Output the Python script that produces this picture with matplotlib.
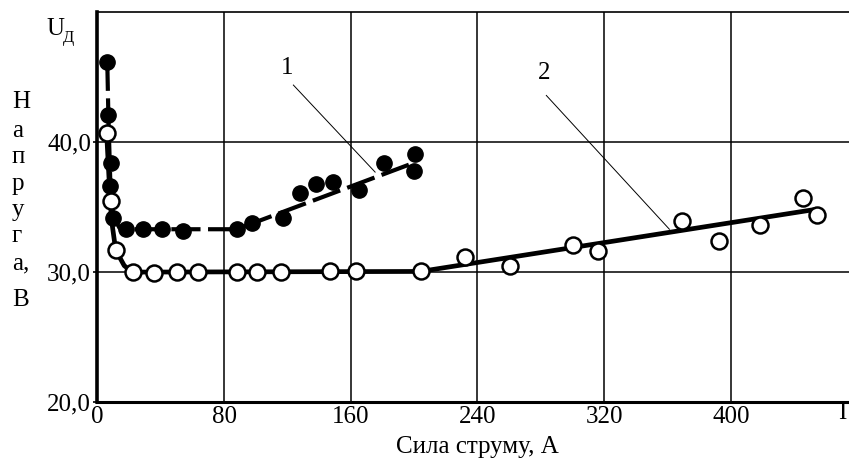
import numpy as np
import matplotlib
matplotlib.use("Agg")
import matplotlib.pyplot as plt

plt.rcParams['font.family'] = ['Liberation Serif', 'DejaVu Serif']

# measured points, curve 1 (filled dots)
i1 = [6.3, 7.0, 8.7, 8.0, 10.1, 18.1, 29.0, 41.0, 53.9, 88.0, 97.5, 117.5,
      128.0, 138.0, 148.6, 165.4, 181.3, 200.6, 200.0]
u1 = [46.2, 42.1, 38.4, 36.6, 34.2, 33.3, 33.3, 33.3, 33.2, 33.3, 33.8, 34.2,
      36.1, 36.8, 36.9, 36.3, 38.4, 39.1, 37.8]

# measured points, curve 2 (open circles)
i2 = [5.9, 8.7, 11.6, 22.7, 35.8, 50.1, 63.8, 88.0, 100.6, 116.0, 147.0, 163.3,
      204.3, 232.4, 260.6, 300.5, 316.3, 369.0, 392.7, 418.4, 445.8, 454.2]
u2 = [40.7, 35.5, 31.7, 30.0, 29.9, 30.0, 30.0, 30.0, 30.0, 30.0, 30.1, 30.1,
      30.1, 31.2, 30.5, 32.1, 31.6, 33.9, 32.4, 33.6, 35.7, 34.4]

# hand-drawn trend lines (vertices)
fit1_i = [6.3, 7.0, 8.2, 10.0, 14.0, 20.0, 88.0, 199.6]
fit1_u = [46.2, 42.0, 37.0, 34.3, 33.4, 33.3, 33.3, 38.4]
fit2_i = [5.9, 7.5, 9.0, 11.6, 17.0, 22.0, 204.0, 452.0]
fit2_u = [40.7, 37.0, 34.0, 31.7, 30.5, 30.0, 30.05, 34.8]

xticks = [0, 80, 160, 240, 320, 400]
xticklabels = ['0', '80', '160', '240', '320', '400']
yticks = [20, 30, 40]
yticklabels = ['20,0', '30,0', '40,0']
ylabel_letters = ['Н', 'а', 'п', 'р', 'у', 'г', 'а,', 'В']

fig = plt.figure(figsize=(8.49, 4.65), dpi=100)
ax = fig.add_axes([0.1146, 0.1355, 0.8854, 0.838])
ax.set_xlim(0, 474.6)
ax.set_ylim(20, 50)

ax.set_xticks(xticks)
ax.set_xticklabels(xticklabels)
ax.set_yticks(yticks)
ax.set_yticklabels(yticklabels)
ax.tick_params(axis='x', length=0, pad=3, labelsize=18)
ax.tick_params(axis='y', length=3, width=1.2, direction='out', pad=1.5, labelsize=18)
ax.grid(True, color='black', linewidth=1.1, zorder=0)
ax.set_axisbelow(True)

ax.spines['right'].set_visible(False)
ax.spines['left'].set_linewidth(2.6)
ax.spines['bottom'].set_linewidth(2.2)
ax.spines['top'].set_linewidth(1.2)

# curve 1: dashed thick line with filled dots
ax.plot(fit1_i, fit1_u, color='black', linewidth=3.0, dashes=(7, 1.8),
        solid_capstyle='butt', zorder=3)
ax.plot(i1, u1, 'o', color='black', markersize=11, zorder=4, clip_on=False)

# curve 2: solid thick line with open circles
ax.plot(fit2_i, fit2_u, color='black', linewidth=3.4, zorder=3)
ax.plot(i2, u2, 'o', markerfacecolor='white', markeredgecolor='black',
        markersize=11.5, markeredgewidth=1.8, zorder=5, clip_on=False)

# curve numbers with leader lines
ax.text(119.6, 45.7, '1', fontsize=18, ha='center', va='center')
ax.plot([123.8, 175.4], [44.4, 37.7], color='black', linewidth=0.7, zorder=2)
ax.text(282.0, 45.3, '2', fontsize=18, ha='center', va='center')
ax.plot([283.5, 361.2], [43.6, 33.3], color='black', linewidth=0.7, zorder=2)

# axis captions
fig.text(846 / 849, 1 - 413 / 465, 'I', fontsize=18, ha='right', va='center')
fig.text(477 / 849, 1 - 447 / 465, 'Сила струму, А', fontsize=18,
         ha='center', va='center')
fig.text(46 / 849, 1 - 29 / 465, 'U', fontsize=18, ha='left', va='center')
fig.text(63 / 849, 1 - 38 / 465, 'Д', fontsize=12, ha='left', va='center')

letter_y = [102, 131, 157, 184, 210, 236, 263, 300]
for letter, y in zip(ylabel_letters, letter_y):
    fig.text(12 / 849, 1 - y / 465, letter, fontsize=18, ha='left', va='center')

fig.savefig('out.png', dpi=100)
